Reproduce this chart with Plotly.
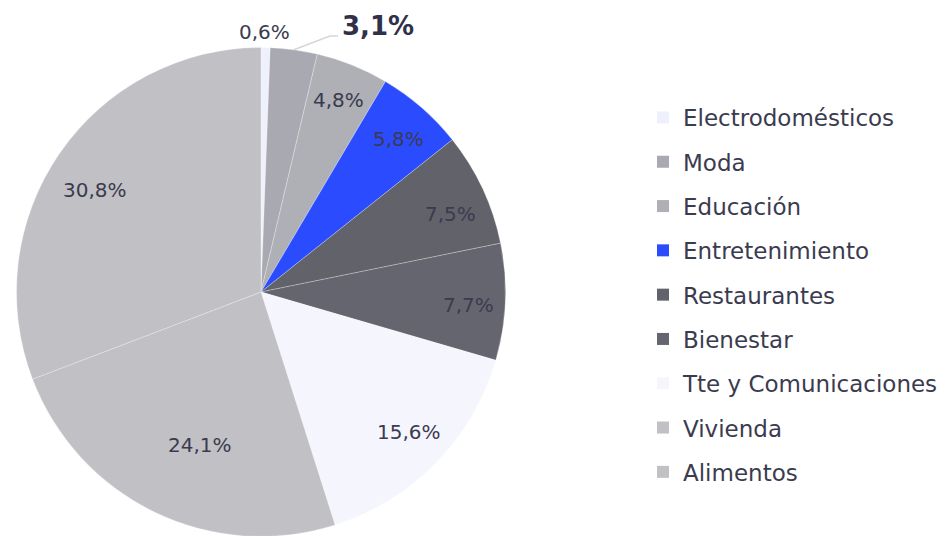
import math
import plotly.graph_objects as go

categories = ["Electrodomésticos", "Moda", "Educación", "Entretenimiento", "Restaurantes",
              "Bienestar", "Tte y Comunicaciones", "Vivienda", "Alimentos"]
values = [0.6, 3.1, 4.8, 5.8, 7.5, 7.7, 15.6, 24.1, 30.8]
label_texts = ["0,6%", "3,1%", "4,8%", "5,8%", "7,5%", "7,7%", "15,6%", "24,1%", "30,8%"]

colors = ["#eef1fc", "#a9a9b1", "#afafb6", "#2b4bff", "#62626b",
          "#65656f", "#f5f5fe", "#c1c0c5", "#c1c0c5"]

W, H = 946, 536
OFF = 8  # page body margin
FONT = "DejaVu Sans"
TXT = "#3b3b4f"


def px(X):
    return (X - OFF) / W


def py(Y):
    return 1 - (Y - OFF) / H


# pie geometry in (screen) pixels
cx, cy, R = 261, 292, 244.5
dom_x = [px(cx - R), px(cx + R)]
dom_y = [max(0.0, py(cy + R)), py(cy - R)]

fig = go.Figure()
fig.add_trace(go.Pie(
    labels=categories, values=values, sort=False, direction="clockwise", rotation=0,
    marker=dict(colors=colors, line=dict(color="rgba(255,255,255,0.45)", width=0.6)),
    textinfo="none", hoverinfo="label+percent", showlegend=False,
    domain=dict(x=dom_x, y=dom_y),
))

# legend via dummy traces
for c, col in zip(categories, colors):
    fig.add_trace(go.Scatter(x=[None], y=[None], mode="markers", name=c,
                             marker=dict(symbol="square", size=10, color=col),
                             legendgroup=c, showlegend=True))

# label positions from cumulative angles (radius factor + small pixel nudges)
radial = [None, None, 0.85, 0.84, 0.83, 0.85, 0.83, 0.67, 0.80]
nudge = [None, None, (0, 1), (3, 2), (6, 8), (0, 5), (3, -2), (10, 5), (-5, 9)]
total = sum(values)
cum = 0
annotations = []
shapes = []
for i, v in enumerate(values):
    mid = (cum + v / 2) / total * 2 * math.pi
    cum += v
    if i == 0:
        annotations.append(dict(x=px(264), y=py(32), xref="paper", yref="paper",
                                xanchor="center", yanchor="middle",
                                text=label_texts[i], showarrow=False,
                                font=dict(family=FONT, size=20, color=TXT)))
    elif i == 1:
        ex = cx + R * math.sin(mid)
        ey = cy - R * math.cos(mid)
        path = "M {} {} L {} {} L {} {}".format(px(ex), py(ey), px(330), py(36), px(338), py(36))
        shapes.append(dict(type="path", xref="paper", yref="paper", path=path,
                           line=dict(color="#d6d6d6", width=1.5)))
        annotations.append(dict(x=px(378), y=py(26), xref="paper", yref="paper",
                                xanchor="center", yanchor="middle",
                                text="<b>" + label_texts[i] + "</b>", showarrow=False,
                                font=dict(family=FONT, size=26, color="#30304a")))
    else:
        r = radial[i] * R
        x = cx + r * math.sin(mid) + nudge[i][0]
        y = cy - r * math.cos(mid) + nudge[i][1]
        annotations.append(dict(x=px(x), y=py(y), xref="paper", yref="paper",
                                xanchor="center", yanchor="middle",
                                text=label_texts[i], showarrow=False,
                                font=dict(family=FONT, size=20, color=TXT)))

fig.update_layout(
    width=W, height=H, margin=dict(l=0, r=0, t=0, b=0),
    paper_bgcolor="white", plot_bgcolor="white",
    xaxis=dict(visible=False), yaxis=dict(visible=False),
    showlegend=True,
    legend=dict(x=px(643), y=py(96), xanchor="left", yanchor="top",
                font=dict(family=FONT, size=23, color=TXT),
                tracegroupgap=11.4, itemsizing="constant", bgcolor="rgba(0,0,0,0)"),
    annotations=annotations, shapes=shapes,
)

fig.write_html("out.html")
